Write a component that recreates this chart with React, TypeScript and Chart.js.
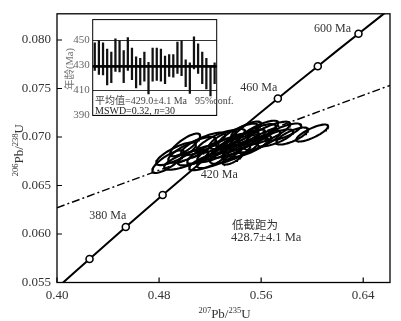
import { useEffect, useRef } from 'react';
import { Chart, registerables } from 'chart.js';

Chart.register(...registerables);

// ---------- main concordia diagram data ----------
const xTicks = [0.4, 0.48, 0.56, 0.64];
const yTicks = [0.055, 0.06, 0.065, 0.07, 0.075, 0.08];

const concordiaAge = [340, 360, 380, 400, 420, 440, 460, 480, 500, 520];
const concordiaX = [0.3977, 0.4255, 0.4539, 0.4828, 0.5123, 0.5424, 0.5731, 0.6044, 0.6363, 0.6688];
const concordiaY = [0.05416, 0.05743, 0.06072, 0.06402, 0.06732, 0.07064, 0.07397, 0.0773, 0.08065, 0.08401];

const markerAge = [360, 380, 400, 460, 480, 500];

const ageLabelText = ['380 Ma', '420 Ma', '460 Ma', '600 Ma'];
const ageLabelAge = [380, 420, 460, 500];

const discordiaX = [0.4, 0.661];
const discordiaY = [0.06271, 0.07532];

// error ellipses: centre, half widths, error correlation
const ellCx = [0.4871, 0.4933, 0.5012, 0.5059, 0.5106, 0.5145, 0.5176, 0.5216, 0.5247, 0.5271,
  0.5302, 0.5333, 0.5357, 0.5373, 0.5396, 0.542, 0.5435, 0.5459, 0.5482, 0.5498,
  0.5529, 0.5553, 0.5576, 0.5608, 0.5655, 0.571, 0.5773, 0.5843, 0.6, 0.5004];
const ellCy = [0.06746, 0.06827, 0.06766, 0.06868, 0.0681, 0.06929, 0.06746, 0.06858, 0.06949, 0.06797,
  0.06888, 0.0698, 0.06827, 0.06776, 0.06919, 0.07021, 0.06868, 0.0696, 0.07071, 0.06898,
  0.07, 0.06929, 0.07051, 0.0697, 0.07041, 0.0699, 0.07051, 0.0701, 0.07041, 0.06919];
const ellSx = [0.0125, 0.0157, 0.0173, 0.0188, 0.0157, 0.0173, 0.0141, 0.0196, 0.0157, 0.0173,
  0.0204, 0.0141, 0.0157, 0.0075, 0.0188, 0.0157, 0.0141, 0.0173, 0.0118, 0.0157,
  0.0188, 0.0125, 0.0157, 0.0141, 0.0173, 0.0141, 0.0141, 0.0125, 0.0125, 0.0118];
const ellSy = [0.00117, 0.00117, 0.00103, 0.00133, 0.00103, 0.00117, 0.00088, 0.00133, 0.00117, 0.00117,
  0.00148, 0.00103, 0.00103, 0.0006, 0.00133, 0.00117, 0.00103, 0.00117, 0.00088, 0.00103,
  0.00133, 0.00088, 0.00117, 0.00103, 0.00117, 0.00088, 0.00088, 0.00088, 0.00088, 0.00117];
const ellRho = [0.8, 0.8, 0.75, 0.8, 0.75, 0.8, 0.75, 0.85, 0.8, 0.8,
  0.85, 0.75, 0.75, 0.7, 0.8, 0.8, 0.75, 0.8, 0.75, 0.75,
  0.8, 0.75, 0.8, 0.75, 0.8, 0.75, 0.75, 0.75, 0.8, 0.8];

const interceptLines = ['低截距为', '428.7±4.1 Ma'];

// ---------- inset weighted-mean plot data ----------
const insetHigh = [447.8, 449.5, 447.8, 442.9, 440.5, 451.0, 449.5, 441.7, 452.0, 443.7,
  436.8, 435.6, 440.5, 432.4, 443.7, 443.7, 442.9, 437.3, 438.5, 438.5,
  448.5, 449.5, 434.4, 432.0, 452.7, 447.1, 440.5, 435.6, 429.5, 432.0];
const insetLow = [425.9, 422.7, 422.2, 414.4, 416.1, 425.1, 424.6, 416.1, 425.9, 418.5,
  412.0, 414.4, 417.3, 407.1, 417.3, 417.8, 417.3, 415.4, 421.0, 420.5,
  423.4, 421.7, 412.9, 407.6, 427.1, 423.4, 415.4, 411.2, 405.6, 415.4];
const insetGrid = [390, 400, 410, 420, 430, 440, 450, 460];
const insetTickLabels = [390, 410, 430, 450];
const meanAge = 429.0;
const insetYTitle = '年龄(Ma)';
const insetText1 = '平均值=429.0±4.1 Ma';
const insetText2 = '95%conf.';
const insetMswd = 'MSWD=0.32, ';
const insetN = 'n';
const insetNVal = '=30';

const SERIF = '"Liberation Serif", "Times New Roman", "Noto Sans CJK SC", serif';
const TXT = '#333';

function ellipsePoints(i: number) {
  const pts: { x: number; y: number }[] = [];
  const n = 60;
  const r = ellRho[i];
  const q = Math.sqrt(1 - r * r);
  for (let k = 0; k <= n; k++) {
    const t = (k / n) * Math.PI * 2;
    pts.push({
      x: ellCx[i] + ellSx[i] * Math.cos(t),
      y: ellCy[i] + ellSy[i] * (r * Math.cos(t) + q * Math.sin(t)),
    });
  }
  return pts;
}

type Part = { t: string; sup?: boolean };
function drawRich(ctx: CanvasRenderingContext2D, parts: Part[], cx: number, cy: number, rot: boolean) {
  ctx.save();
  ctx.translate(cx, cy);
  if (rot) ctx.rotate(-Math.PI / 2);
  const big = `13px ${SERIF}`;
  const small = `8.5px ${SERIF}`;
  let w = 0;
  for (const p of parts) {
    ctx.font = p.sup ? small : big;
    w += ctx.measureText(p.t).width;
  }
  let x = -w / 2;
  ctx.textAlign = 'left';
  ctx.textBaseline = 'alphabetic';
  ctx.fillStyle = TXT;
  for (const p of parts) {
    ctx.font = p.sup ? small : big;
    ctx.fillText(p.t, x, p.sup ? -0.5 : 4.5);
    x += ctx.measureText(p.t).width;
  }
  ctx.restore();
}

const labelOffsets: Record<string, [number, number]> = {
  '380 Ma': [-18, -11],
  '420 Ma': [19, 12],
  '460 Ma': [-19, -11],
  '600 Ma': [-26, -5],
};

const mainPlugin = {
  id: 'mainDecor',
  afterDraw(chart: any) {
    const { ctx, chartArea: a, scales } = chart;
    const sx = scales.x;
    const sy = scales.y;
    ctx.save();
    ctx.strokeStyle = '#000';
    ctx.lineWidth = 1.3;
    ctx.strokeRect(a.left, a.top, a.right - a.left, a.bottom - a.top);
    ctx.lineWidth = 1.2;
    ctx.beginPath();
    for (const v of xTicks) {
      const px = sx.getPixelForValue(v);
      ctx.moveTo(px, a.bottom);
      ctx.lineTo(px, a.bottom - 5);
    }
    for (const v of yTicks) {
      const py = sy.getPixelForValue(v);
      ctx.moveTo(a.left, py);
      ctx.lineTo(a.left + 5, py);
    }
    ctx.stroke();
    drawRich(ctx, [{ t: '207', sup: true }, { t: 'Pb/' }, { t: '235', sup: true }, { t: 'U' }],
      (a.left + a.right) / 2 + 1, 313, false);
    drawRich(ctx, [{ t: '206', sup: true }, { t: 'Pb/' }, { t: '238', sup: true }, { t: 'U' }],
      18, (a.top + a.bottom) / 2 + 2, true);
    ctx.fillStyle = TXT;
    ctx.font = `12px ${SERIF}`;
    ctx.textAlign = 'center';
    ctx.textBaseline = 'middle';
    ageLabelText.forEach((t, i) => {
      const idx = concordiaAge.indexOf(ageLabelAge[i]);
      const px = sx.getPixelForValue(concordiaX[idx]);
      const py = sy.getPixelForValue(concordiaY[idx]);
      const off = labelOffsets[t];
      ctx.fillText(t, px + off[0], py + off[1]);
    });
    ctx.textAlign = 'left';
    ctx.font = `11.5px ${SERIF}`;
    ctx.fillText(interceptLines[0], 232, 226);
    ctx.font = `12.5px ${SERIF}`;
    ctx.fillText(interceptLines[1], 231, 237.5);
    ctx.restore();
  },
};

const insetPlugin = {
  id: 'insetDecor',
  afterDraw(chart: any) {
    const { ctx, chartArea: a, scales } = chart;
    const sy = scales.y;
    ctx.save();
    const my = sy.getPixelForValue(meanAge);
    ctx.strokeStyle = '#000';
    ctx.lineWidth = 2.5;
    ctx.beginPath();
    ctx.moveTo(a.left, my);
    ctx.lineTo(a.right, my);
    ctx.stroke();
    ctx.lineWidth = 1;
    ctx.strokeRect(a.left, a.top, a.right - a.left, a.bottom - a.top);
    ctx.fillStyle = '#444';
    ctx.textBaseline = 'middle';
    ctx.textAlign = 'left';
    ctx.font = `10px ${SERIF}`;
    ctx.fillText(insetText1, 35, 91.5);
    ctx.fillText(insetText2, 135, 91.5);
    ctx.fillStyle = '#222';
    let x = 35;
    ctx.fillText(insetMswd, x, 101);
    x += ctx.measureText(insetMswd).width;
    ctx.font = `italic 10px ${SERIF}`;
    ctx.fillText(insetN, x, 101);
    x += ctx.measureText(insetN).width;
    ctx.font = `10px ${SERIF}`;
    ctx.fillText(insetNVal, x, 101);
    ctx.save();
    ctx.translate(10, 59);
    ctx.rotate(-Math.PI / 2);
    ctx.textAlign = 'center';
    ctx.fillStyle = '#777';
    ctx.font = `10.5px ${SERIF}`;
    ctx.fillText(insetYTitle, 0, 0);
    ctx.restore();
    ctx.restore();
  },
};

export default function App() {
  const mainRef = useRef<HTMLCanvasElement>(null);
  const insetRef = useRef<HTMLCanvasElement>(null);

  useEffect(() => {
    const datasets: any[] = [];
    datasets.push({
      data: markerAge.map((age) => {
        const i = concordiaAge.indexOf(age);
        return { x: concordiaX[i], y: concordiaY[i] };
      }),
      showLine: false,
      pointRadius: 3.5,
      pointBorderWidth: 1.6,
      pointBackgroundColor: '#fff',
      pointBorderColor: '#000',
    });
    ellCx.forEach((_, i) => {
      datasets.push({
        data: ellipsePoints(i),
        showLine: true,
        borderColor: '#000',
        borderWidth: 2.1,
        pointRadius: 0,
        tension: 0,
        fill: false,
      });
    });
    datasets.push({
      data: concordiaX.map((x, i) => ({ x, y: concordiaY[i] })),
      showLine: true,
      borderColor: '#000',
      borderWidth: 2,
      pointRadius: 0,
      tension: 0.3,
    });
    datasets.push({
      data: discordiaX.map((x, i) => ({ x, y: discordiaY[i] })),
      showLine: true,
      borderColor: '#000',
      borderWidth: 1.5,
      borderDash: [8, 3, 2, 3],
      pointRadius: 0,
    });

    const main = new Chart(mainRef.current!, {
      type: 'scatter',
      data: { datasets },
      options: {
        animation: false,
        responsive: false,
        events: [],
        plugins: { legend: { display: false }, tooltip: { enabled: false } },
        layout: { padding: { left: 0, top: 10, right: 11, bottom: 0 } },
        scales: {
          x: {
            type: 'linear',
            min: 0.4,
            max: 0.661,
            afterBuildTicks: (s: any) => { s.ticks = xTicks.map((v) => ({ value: v })); },
            afterFit: (s: any) => { s.height = 38.5; },
            grid: { display: false, drawTicks: false },
            border: { display: false },
            ticks: {
              padding: 5,
              color: TXT,
              font: { family: SERIF, size: 13 },
              callback: (v: any) => Number(v).toFixed(2),
            },
          },
          y: {
            type: 'linear',
            min: 0.055,
            max: 0.0827,
            afterBuildTicks: (s: any) => { s.ticks = yTicks.map((v) => ({ value: v })); },
            afterFit: (s: any) => { s.width = 57; },
            grid: { display: false, drawTicks: false },
            border: { display: false },
            ticks: {
              padding: 6,
              color: TXT,
              font: { family: SERIF, size: 13 },
              callback: (v: any) => Number(v).toFixed(3),
            },
          },
        },
      },
      plugins: [mainPlugin],
    });

    const inset = new Chart(insetRef.current!, {
      type: 'bar',
      data: {
        labels: insetLow.map((_, i) => String(i + 1)),
        datasets: [{
          data: insetLow.map((l, i) => [l, insetHigh[i]]),
          backgroundColor: '#111',
          borderWidth: 0,
          barThickness: 1.6,
        }],
      },
      options: {
        animation: false,
        responsive: false,
        events: [],
        plugins: { legend: { display: false }, tooltip: { enabled: false } },
        layout: { padding: { left: 0, top: 5, right: 23.3, bottom: 6 } },
        scales: {
          x: { display: false, offset: true },
          y: {
            min: 390,
            max: 466.4,
            afterBuildTicks: (s: any) => { s.ticks = insetGrid.map((v) => ({ value: v })); },
            afterFit: (s: any) => { s.width = 32.7; },
            grid: {
              drawTicks: false,
              color: (c: any) => (c.tick && (c.tick.value === 460 || c.tick.value === 400) ? '#999' : '#333'),
              lineWidth: (c: any) => (c.tick && (c.tick.value === 460 || c.tick.value === 400) ? 2 : 1),
            },
            border: { display: false },
            ticks: {
              padding: 3,
              color: '#666',
              font: { family: SERIF, size: 11 },
              callback: (v: any) => (insetTickLabels.includes(Number(v)) ? String(v) : ''),
            },
          },
        },
      },
      plugins: [insetPlugin],
    });

    return () => {
      main.destroy();
      inset.destroy();
    };
  }, []);

  return (
    <div style={{ position: 'fixed', left: 0, top: 0, width: 401, height: 321, background: '#fff' }}>
      <canvas ref={mainRef} width={401} height={321} style={{ position: 'absolute', left: 0, top: 0 }} />
      <canvas ref={insetRef} width={180} height={115} style={{ position: 'absolute', left: 60, top: 10 }} />
    </div>
  );
}
